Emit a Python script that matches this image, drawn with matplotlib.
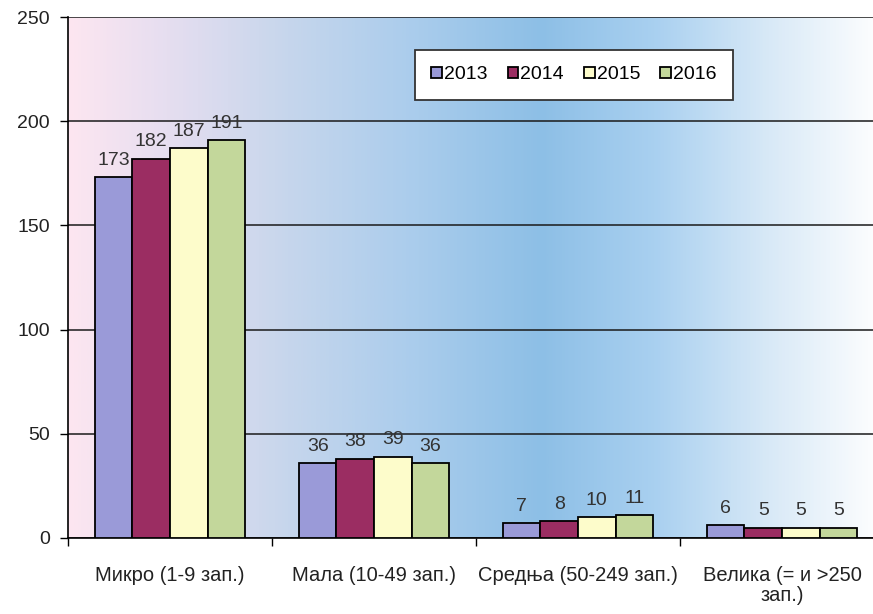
import matplotlib
matplotlib.use("Agg")
from matplotlib import pyplot as plt, colors
import numpy as np

categories = ["Микро (1-9 зап.)", "Мала (10-49 зап.)", "Средња (50-249 зап.)", "Велика (= и >250\nзап.)"]
years = ["2013", "2014", "2015", "2016"]
v2013 = [173, 36, 7, 6]
v2014 = [182, 38, 8, 5]
v2015 = [187, 39, 10, 5]
v2016 = [191, 36, 11, 5]
series = [v2013, v2014, v2015, v2016]
bar_colors = ["#9a9ad8", "#9b2d62", "#fdfccb", "#c3d79b"]

plt.rcParams["font.family"] = ["Liberation Sans", "DejaVu Sans"]

fig = plt.figure(figsize=(8.73, 6.14), dpi=100)
ax = fig.add_axes([68 / 873, 76 / 614, 816 / 873, 521 / 614])

# gradient background of the plot area
stops = [(0.0, "#fde6f0"), (0.12, "#e6def0"), (0.27, "#c6d6ec"), (0.43, "#a9ccec"),
         (0.58, "#8dbfe6"), (0.72, "#a9d0f0"), (0.86, "#d8e9f7"), (1.0, "#ffffff")]
cmap = colors.LinearSegmentedColormap.from_list("bg", stops)
grad = np.linspace(0, 1, 512).reshape(1, -1)
ax.imshow(grad, cmap=cmap, aspect="auto", extent=[0, 1, 0, 1],
          transform=ax.transAxes, zorder=0)

x = np.arange(len(categories))
w = 0.184
for i, (vals, c, yr) in enumerate(zip(series, bar_colors, years)):
    pos = x + (i - 1.5) * w
    bars = ax.bar(pos, vals, w, color=c, edgecolor="black", linewidth=1.3,
                  label=yr, zorder=3)
    for b, v in zip(bars, vals):
        ax.annotate(str(v), (b.get_x() + b.get_width() / 2, v),
                    xytext=(0, 6), textcoords="offset points",
                    ha="center", va="bottom", fontsize=14, color="#333333")

ax.set_xlim(-0.5, len(categories) - 0.5)
ax.set_ylim(0, 250)
ax.set_yticks([0, 50, 100, 150, 200, 250])
ax.yaxis.grid(True, color="#1a1a1a", linewidth=1.1, zorder=1)
ax.set_axisbelow(True)

ax.set_xticks(x)
ax.set_xticklabels(categories, fontsize=14.5, color="#222222", linespacing=1.1)
ax.set_xticks(np.arange(len(categories) + 1) - 0.5, minor=True)
ax.tick_params(axis="x", which="major", length=0, pad=20)
ax.tick_params(axis="x", which="minor", length=6, width=1, direction="out")
ax.tick_params(axis="y", length=6, width=1, labelsize=14, labelcolor="#222222", pad=7)

for s in ["top", "right"]:
    ax.spines[s].set_visible(False)
ax.spines["left"].set_linewidth(1.2)
ax.spines["bottom"].set_linewidth(1.2)

leg = ax.legend(loc="upper left", bbox_to_anchor=(0.425, 0.937, 0.39, 0.0),
                mode="expand", ncol=4, frameon=True, fancybox=False,
                fontsize=14, handlelength=0.55, handleheight=0.55,
                handletextpad=0.1, columnspacing=1.0, borderpad=0.85,
                borderaxespad=0)
leg.get_frame().set_edgecolor("#333333")
leg.get_frame().set_linewidth(1.3)
leg.get_frame().set_facecolor("white")
leg.get_frame().set_alpha(1)

fig.savefig("out.png", dpi=100)
